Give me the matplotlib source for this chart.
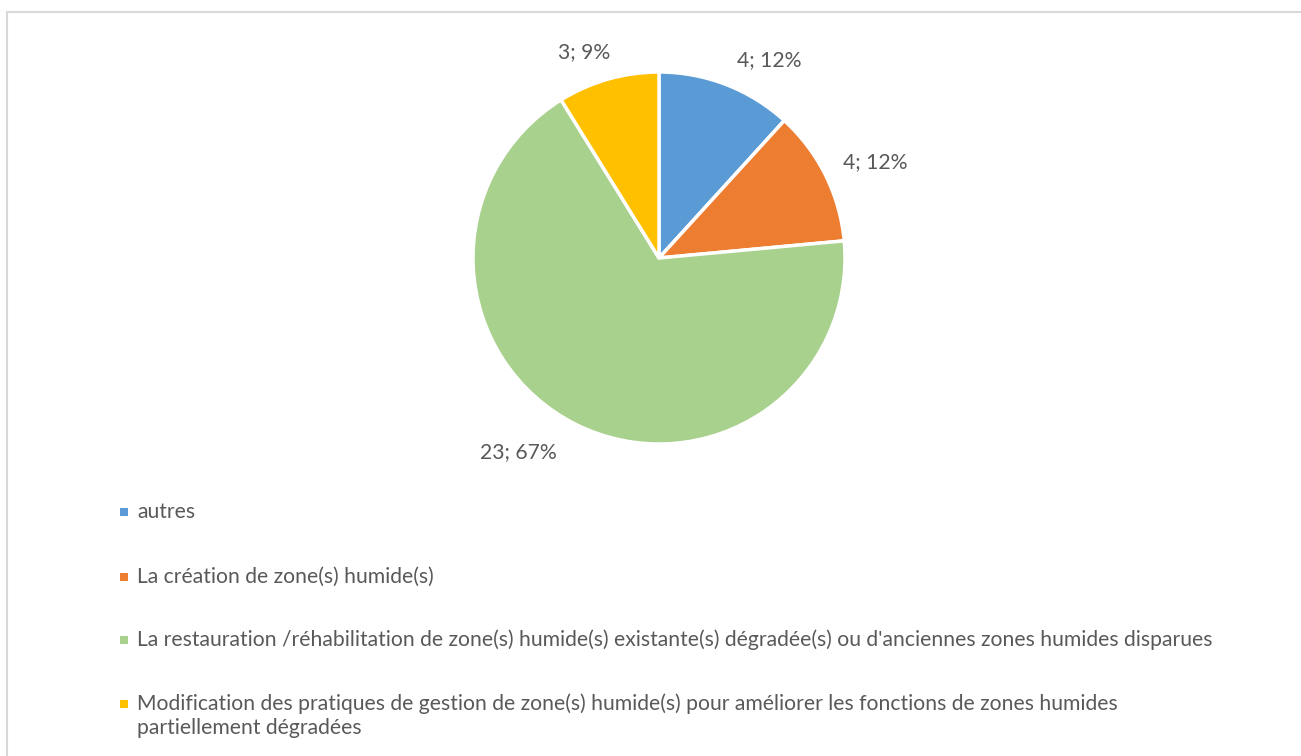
import matplotlib
matplotlib.use("Agg")
import matplotlib.pyplot as plt
from matplotlib.patches import Rectangle
import numpy as np

categories = [
    "autres",
    "La création de zone(s) humide(s)",
    "La restauration /réhabilitation de zone(s) humide(s) existante(s) dégradée(s) ou d'anciennes zones humides disparues",
    "Modification des pratiques de gestion de zone(s) humide(s) pour améliorer les fonctions de zones humides\npartiellement dégradées",
]
values = [4, 4, 23, 3]
percent_labels = ["12%", "12%", "67%", "9%"]
colors = ["#5B9BD5", "#ED7D31", "#A9D18E", "#FFC000"]

# label placement (angle in degrees, distance in radii) - layout only
label_pos = [(60.9, 1.22), (24.0, 1.27), (-126.0, 1.29), (110.0, 1.18)]

W, H = 1301, 756
fig = plt.figure(figsize=(W / 100, H / 100), dpi=100)
fig.patch.set_facecolor("white")

# chart area border
fig.patches.append(Rectangle((7 / W, -0.1), 1.2, (756 - 12) / H + 0.1,
                             transform=fig.transFigure, fill=False,
                             edgecolor="#D9D9D9", linewidth=1.5))

cx, cy, r = 659, 258, 186
ax = fig.add_axes([(cx - r) / W, (H - cy - r) / H, 2 * r / W, 2 * r / H])
ax.pie(values, colors=colors, startangle=90, counterclock=False,
       wedgeprops=dict(edgecolor="white", linewidth=2.5), radius=1.0)
ax.set_xlim(-1, 1)
ax.set_ylim(-1, 1)
ax.set_aspect("equal")
ax.axis("off")

font = "Lato"
txt_color = "#595959"
fs = 15.2

for v, p, (ang, d) in zip(values, percent_labels, label_pos):
    a = np.deg2rad(ang)
    ax.text(d * np.cos(a), d * np.sin(a), f"{v}; {p}", ha="center", va="center",
            fontsize=fs, color=txt_color, family=font, clip_on=False)

# legend
rows_y = [512, 577, 640, 704]
line_step = 24
for cat, col, y in zip(categories, colors, rows_y):
    fig.patches.append(Rectangle(((124 - 4) / W, (H - y - 4) / H), 8 / W, 8 / H,
                                 transform=fig.transFigure, facecolor=col,
                                 edgecolor="none"))
    for i, line in enumerate(cat.split("\n")):
        fig.text(137 / W, (H - y - i * line_step) / H, line, ha="left", va="center",
                 fontsize=fs, color=txt_color, family=font)

fig.savefig("out.png", dpi=100)
